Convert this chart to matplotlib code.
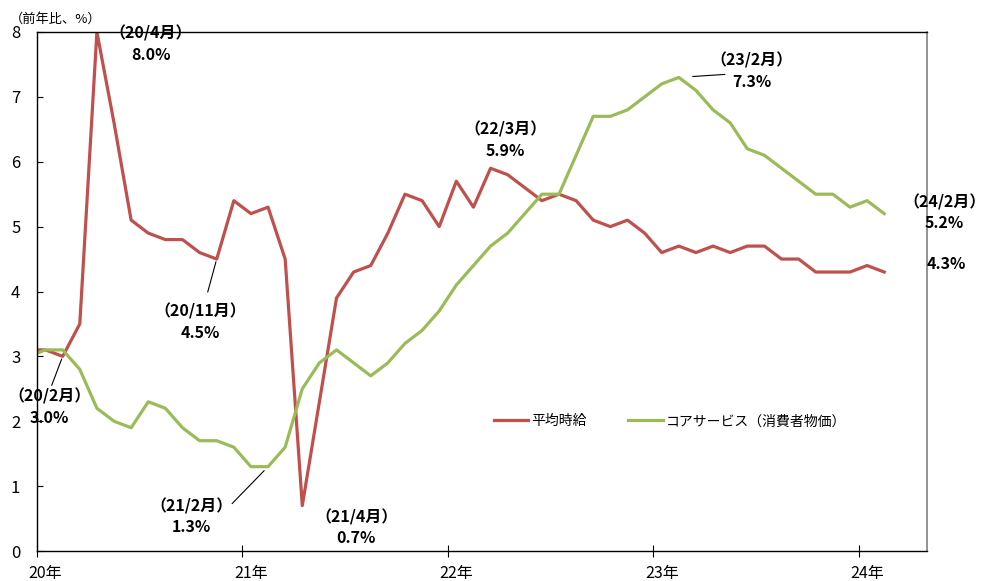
import matplotlib
matplotlib.use("Agg")
import matplotlib.pyplot as plt
import numpy as np
import pandas as pd

plt.rcParams['font.family'] = ['Noto Sans CJK JP', 'DejaVu Sans']

# monthly data, 2019/12 - 2024/2 (first point only feeds the clipped start)
months = pd.period_range('2019-12', '2024-02', freq='M')
wage = [3.1,
        3.1, 3.0, 3.5, 8.0, 6.6, 5.1, 4.9, 4.8, 4.8, 4.6, 4.5, 5.4,
        5.2, 5.3, 4.5, 0.7, 2.3, 3.9, 4.3, 4.4, 4.9, 5.5, 5.4, 5.0,
        5.7, 5.3, 5.9, 5.8, 5.6, 5.4, 5.5, 5.4, 5.1, 5.0, 5.1, 4.9,
        4.6, 4.7, 4.6, 4.7, 4.6, 4.7, 4.7, 4.5, 4.5, 4.3, 4.3, 4.3,
        4.4, 4.3]
core_service = [3.0,
                3.1, 3.1, 2.8, 2.2, 2.0, 1.9, 2.3, 2.2, 1.9, 1.7, 1.7, 1.6,
                1.3, 1.3, 1.6, 2.5, 2.9, 3.1, 2.9, 2.7, 2.9, 3.2, 3.4, 3.7,
                4.1, 4.4, 4.7, 4.9, 5.2, 5.5, 5.5, 6.1, 6.7, 6.7, 6.8, 7.0,
                7.2, 7.3, 7.1, 6.8, 6.6, 6.2, 6.1, 5.9, 5.7, 5.5, 5.5, 5.3,
                5.4, 5.2]
year_labels = ['20年', '21年', '22年', '23年', '24年']

RED = '#C0504D'
GREEN = '#9BBB59'

x = np.arange(len(months)) - 1  # 0 = 2020/1

fig = plt.figure(figsize=(9.83, 5.81), dpi=100)
ax = fig.add_axes([37 / 983, 30 / 581, 890 / 983, 519 / 581])

ax.plot(x, wage, color=RED, lw=2.3, label='平均時給', solid_joinstyle='round')
ax.plot(x, core_service, color=GREEN, lw=2.3, label='コアサービス（消費者物価）',
        solid_joinstyle='round')

ax.set_xlim(-0.5, 51.5)
ax.set_ylim(0, 8)

# year labels under January, tick marks on the year boundaries
ax.set_xticks(np.arange(0, 49, 12))
ax.set_xticklabels(year_labels, fontsize=11.5)
ax.tick_params(axis='x', which='major', length=0, pad=10)
ax.set_xticks(np.arange(-0.5, 48, 12), minor=True)
ax.tick_params(axis='x', which='minor', direction='inout', length=8, width=0.8)

ax.set_yticks(range(0, 9))
ax.tick_params(axis='y', direction='in', length=4, width=0.8, labelsize=12, pad=12)

for side in ['left', 'bottom', 'top']:
    ax.spines[side].set_color('black')
    ax.spines[side].set_linewidth(1.0)
ax.spines['right'].set_color('#808080')
ax.spines['right'].set_linewidth(1.2)

fig.text(10 / 983, 1 - 19 / 581, '（前年比、%）', fontsize=9.5, va='center', ha='left')


def month_index(label):
    return months.get_loc(pd.Period(label, freq='M')) - 1


def annotate(series, label, text_off, leader=None, shrink=(0, 2), show_month=True):
    i = month_index(label)
    v = series[i + 1]
    p = pd.Period(label, freq='M')
    txt = f'{v:.1f}%'
    if show_month:
        txt = f'（{p.year % 100}/{p.month}月）\n' + txt
    ax.annotate(txt, xy=(i, v), xytext=text_off, textcoords='offset pixels',
                ha='center', va='center', fontsize=11.5, fontweight='bold',
                linespacing=1.4, annotation_clip=False)
    if leader is not None:
        ax.annotate('', xy=(i, v), xytext=leader, textcoords='offset pixels',
                    arrowprops=dict(arrowstyle='-', color='black', lw=0.8,
                                    shrinkA=shrink[0], shrinkB=shrink[1]))


annotate(wage, '2020-04', (54, -12))
annotate(wage, '2020-02', (-13, -51), leader=(-11, -29))
annotate(wage, '2020-11', (-16, -63), leader=(-9, -33))
annotate(core_service, '2021-02', (-77, -50), leader=(-36, -37), shrink=(0, 4))
annotate(wage, '2021-04', (54, -22))
annotate(wage, '2022-03', (15, 28))
annotate(core_service, '2023-02', (73, 6), leader=(46, 3), shrink=(0, 10))
annotate(core_service, '2024-02', (60, 1))
annotate(wage, '2024-02', (62, 8), show_month=False)

ax.legend(loc='center left', bbox_to_anchor=(0.513, 0.25), ncol=2, frameon=False,
          fontsize=10, handlelength=2.5, handletextpad=0.2, columnspacing=3.0,
          borderpad=0, borderaxespad=0)

fig.savefig('out.png', dpi=100)
